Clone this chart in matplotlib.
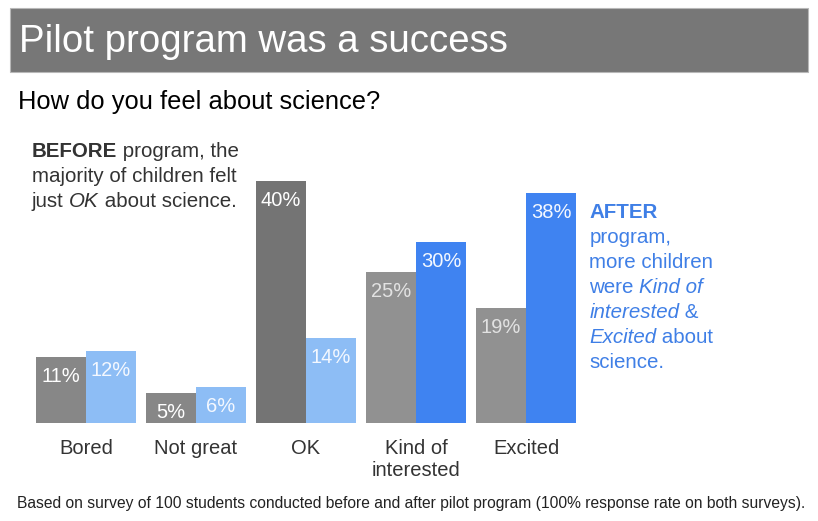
import matplotlib
matplotlib.use('Agg')
import matplotlib.pyplot as plt
from matplotlib.patches import Rectangle

# === DATA ===
categories = ['Bored', 'Not great', 'OK', 'Kind of\ninterested', 'Excited']
before = [11, 5, 40, 25, 19]
after = [12, 6, 14, 30, 38]

# === PALETTE ===
TITLE_BG = '#777777'
DARK = '#333333'
BLUE_TXT = '#3f7fe6'
BEFORE_COLORS = ['#878787', '#878787', '#747474', '#919191', '#919191']
AFTER_COLORS = ['#8dbdf5', '#8dbdf5', '#8dbdf5', '#3f83f1', '#3f83f1']
BEFORE_LBL = ['white', 'white', 'white', '#e2e2e2', '#e2e2e2']
AFTER_LBL = ['#f4f8ff'] * 5

FONT = 'Liberation Sans'
plt.rcParams['font.family'] = [FONT, 'DejaVu Sans']

W, H = 818, 521
fig = plt.figure(figsize=(W / 100, H / 100), dpi=100)
fig.patch.set_facecolor('white')

# overlay axes in pixel coords (y down) for the text blocks
ov = fig.add_axes([0, 0, 1, 1])
ov.set_xlim(0, W)
ov.set_ylim(H, 0)
ov.axis('off')

# ── TITLE BAR ──
ov.add_patch(Rectangle((10, 8.3), 798, 63.4, facecolor=TITLE_BG,
                       edgecolor='#b8b8b8', linewidth=0.8))
ov.text(19, 52.3, 'Pilot program was a success', fontsize=27.6,
        color='white', va='baseline', ha='left')
ov.text(18, 109.3, 'How do you feel about science?', fontsize=18.4,
        color='black', va='baseline', ha='left')


def rich_line(x, y, pieces, color, size=14.8):
    """Place text pieces one after another on a common baseline."""
    prev = None
    for txt, style in pieces:
        kw = dict(fontsize=size, color=color)
        if style == 'b':
            kw['fontweight'] = 'bold'
        elif style == 'i':
            kw['fontstyle'] = 'italic'
        if prev is None:
            prev = ov.text(x, y, txt, va='baseline', ha='left', **kw)
        else:
            prev = ov.annotate(txt, xy=(1, 0), xycoords=prev,
                               va='bottom', ha='left', **kw)


# ── BEFORE note ──
left_lines = [
    [('BEFORE', 'b'), (' program, the', '')],
    [('majority of children felt', '')],
    [('just ', ''), ('OK', 'i'), (' about science.', '')],
]
for k, line in enumerate(left_lines):
    rich_line(31.7, 156.7 + 25 * k, line, DARK)

# ── AFTER note ──
right_lines = [
    [('AFTER', 'b')],
    [('program,', '')],
    [('more children', '')],
    [('were ', ''), ('Kind of', 'i')],
    [('interested', 'i'), (' &', '')],
    [('Excited', 'i'), (' about', '')],
    [('science.', '')],
]
for k, line in enumerate(right_lines):
    rich_line(589.3, 218.3 + 25 * k, line, BLUE_TXT)

# ── FOOTER ──
ov.text(17, 508.3,
        'Based on survey of 100 students conducted before and after pilot '
        'program (100% response rate on both surveys).',
        fontsize=11.25, color='#222222', va='baseline', ha='left')

# ── BAR CHART ──
ax = fig.add_axes([31 / W, 98 / H, 550 / W, 271.8 / H])
ax.set_facecolor('none')
x = list(range(len(categories)))
bw = 50 / 110
b1 = ax.bar([i - bw / 2 for i in x], before, width=bw, color=BEFORE_COLORS,
            linewidth=0)
b2 = ax.bar([i + bw / 2 for i in x], after, width=bw, color=AFTER_COLORS,
            linewidth=0)
ax.set_xlim(-0.5, 4.5)
ax.set_ylim(0, 45)

for bars, vals, cols in ((b1, before, BEFORE_LBL), (b2, after, AFTER_LBL)):
    for bar, v, c in zip(bars, vals, cols):
        ax.annotate(f'{v}%', xy=(bar.get_x() + bar.get_width() / 2, bar.get_height()),
                    xytext=(0, -7.2), textcoords='offset points',
                    ha='center', va='top', fontsize=14.5, color=c)

ax.set_xticks(x, categories)
ax.tick_params(axis='x', length=0, pad=11.5, labelsize=14.5, colors=DARK)
ax.set_yticks([])
for s in ax.spines.values():
    s.set_visible(False)

fig.savefig('out.png', dpi=100, facecolor='white')
